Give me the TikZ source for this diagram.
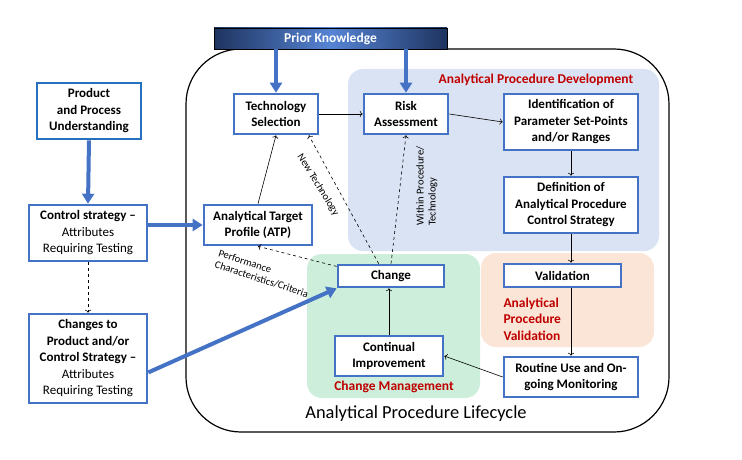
\documentclass[tikz,border=0pt]{standalone}
\usepackage{fontspec}
\setmainfont{Carlito}
\usepackage{xcolor}
\usepackage{tikz}
\usetikzlibrary{shapes,arrows,arrows.meta}

\definecolor{boxblue}{RGB}{68,114,196}
\definecolor{prodblue}{RGB}{38,112,192}
\definecolor{devpanel}{RGB}{218,227,243}
\definecolor{chgpanel}{RGB}{204,238,218}
\definecolor{valpanel}{RGB}{251,229,214}
\definecolor{labelred}{RGB}{192,0,0}
\definecolor{pkdark}{RGB}{30,52,96}
\definecolor{pklight}{RGB}{86,132,212}

\begin{document}
\begin{tikzpicture}[x=1pt, y=-1pt]
		% Define the style for the boxes and arrows
		\tikzstyle{stage}=[rectangle, draw=boxblue, line width=2.6pt, fill=white, text centered, align=center, inner sep=1pt, font=\fontsize{13}{16.5}\selectfont\bfseries]
		\tikzstyle{panellabel}=[text=labelred, font=\fontsize{13.5}{16.5}\selectfont\bfseries]
		\tikzstyle{note}=[font=\fontsize{10.5}{12}\selectfont, inner sep=0pt]
		\tikzstyle{bigarrow}=[boxblue, line width=4pt, arrows = {-Triangle[length=10pt, width=12pt]}]
		\tikzstyle{flow}=[line width=0.6pt, arrows = {->}]

		\useasboundingbox (0,0) rectangle (742,460);

		% Lifecycle frame and panels
		\draw[line width=1.2pt, rounded corners=55] (186,49) rectangle (669,432);
		\fill[devpanel, rounded corners=15] (348,69) rectangle (659,251);
		\fill[chgpanel, rounded corners=15] (307,254) rectangle (480,398);
		\fill[valpanel, rounded corners=15] (481,253) rectangle (654,347);

		% Define nodes
		\node (prior) [rectangle, draw=black, line width=0.8pt, left color=pkdark, right color=pkdark, middle color=pklight, text=white, minimum width=233, minimum height=21, inner sep=0pt, font=\fontsize{13.5}{15}\selectfont\bfseries] at (330.5,38.5) {Prior Knowledge};
		\node (product) [stage, draw=prodblue, minimum width=104, minimum height=56] at (89,111) {Product\\and Process\\Understanding};
		\node (ctrl) [stage, minimum width=118, minimum height=56] at (88,233) {Control strategy --\\\mdseries Attributes\\\mdseries Requiring Testing};
		\node (changes) [stage, minimum width=118, minimum height=89] at (88,358.5) {Changes to\\Product and/or\\Control Strategy --\\\mdseries Attributes\\\mdseries Requiring Testing};
		\node (tech) [stage, minimum width=84, minimum height=40] at (276,114) {Technology\\Selection};
		\node (atp) [stage, minimum width=108, minimum height=40] at (258,225) {Analytical Target\\Profile (ATP)};
		\node (risk) [stage, minimum width=84, minimum height=40] at (406,114) {Risk\\Assessment};
		\node (ident) [stage, minimum width=134, minimum height=56] at (571,122) {Identification of\\Parameter Set-Points\\and/or Ranges};
		\node (defn) [stage, minimum width=134, minimum height=56] at (571,205) {Definition of\\Analytical Procedure\\Control Strategy};
		\node (valid) [stage, minimum width=117, minimum height=23] at (562.5,275.5) {Validation};
		\node (routine) [stage, minimum width=134, minimum height=40] at (571,377) {Routine Use and On-\\going Monitoring};
		\node (change) [stage, minimum width=106, minimum height=22] at (391,276) {Change};
		\node (contin) [stage, minimum width=108, minimum height=40] at (389,356) {Continual\\Improvement};

		\node (devlabel) [panellabel] at (536,80) {Analytical Procedure Development};
		\node (chglabel) [panellabel] at (394,387) {Change Management};
		\node (vallabel) [panellabel, align=left, anchor=west] at (500,319) {Analytical\\Procedure\\Validation};
		\node (lifelabel) [font=\fontsize{18.4}{22}\selectfont] at (416,414) {Analytical Procedure Lifecycle};

		% Define edges
		\draw[bigarrow] (prior.south -| tech.north) -- (tech.north);
		\draw[bigarrow] (prior.south -| risk.north) -- (risk.north);
		\draw[bigarrow] (product.south) -- (ctrl.north);
		\draw[bigarrow] (ctrl.east |- atp.west) -- (atp.west);
		\draw[bigarrow] (changes.-13) -- (change.south west);

		\draw[flow, dashed] (ctrl.south) -- (changes.north);
		\draw[flow] (atp.north) -- (tech.south);
		\draw[flow] (tech.east) -- (risk.west);
		\draw[flow] (risk.east) -- (ident.west);
		\draw[flow] (ident.south) -- (defn.north);
		\draw[flow] (defn.south) -- (defn.south |- valid.north);
		\draw[flow] (routine.north |- valid.south) -- (routine.north);
		\draw[flow] (routine.west) -- (contin.east);
		\draw[flow] (contin.north) -- (change.south -| contin.north);

		\draw[flow, dashed] (change.170) -- (atp.south);
		\draw[flow, dashed] (change.135) -- (tech.-33);
		\draw[flow, dashed] (change.north) -- (risk.south);

		\node (newtech) [note, rotate=-58] at (318,185) {New Technology};
		\node (within) [note, rotate=90, align=left] at (427,186) {Within Procedure/\\Technology};
		\node (perf) [note, rotate=-18, align=left, anchor=north west] at (220,249) {Performance\\Characteristics/Criteria};
\end{tikzpicture}
\end{document}
